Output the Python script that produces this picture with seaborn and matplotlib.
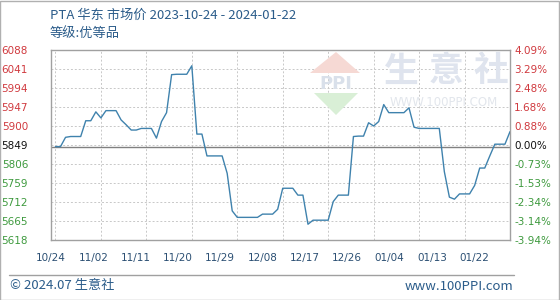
import matplotlib
matplotlib.use("Agg")
import matplotlib.pyplot as plt
import matplotlib.dates as mdates
from matplotlib.patches import Polygon, Rectangle
from matplotlib.lines import Line2D
import seaborn as sns
import pandas as pd

# ---------------- data ----------------
start_date = "2023-10-24"
end_date = "2024-01-22"
prices = [
    5849, 5849, 5872, 5874, 5874, 5874, 5913, 5913, 5935, 5920,
    5938, 5938, 5938, 5915, 5903, 5890, 5890, 5894, 5894, 5894,
    5870, 5911, 5933, 6027, 6028, 6028, 6028, 6049, 5880, 5880,
    5826, 5826, 5826, 5826, 5783, 5690, 5674, 5674, 5674, 5674,
    5674, 5682, 5682, 5682, 5694, 5746, 5746, 5746, 5729, 5729,
    5657, 5667, 5667, 5667, 5667, 5713, 5729, 5729, 5729, 5874,
    5875, 5875, 5908, 5900, 5911, 5953, 5933, 5933, 5933, 5933,
    5945, 5897, 5894, 5894, 5894, 5894, 5894, 5787, 5724, 5719,
    5732, 5732, 5732, 5753, 5796, 5796, 5826, 5855, 5855, 5855,
    5886,
]
base_price = 5849
y_ticks = [5618, 5665, 5712, 5759, 5806, 5853, 5900, 5947, 5994, 6041, 6088]
y_labels = ["5618", "5665", "5712", "5759", "5806", "5849",
            "5900", "5947", "5994", "6041", "6088"]
pct_labels = ["-3.94%", "-3.14%", "-2.34%", "-1.53%", "-0.73%", "0.00%",
              "0.88%", "1.68%", "2.48%", "3.29%", "4.09%"]
x_labels = ["10/24", "11/02", "11/11", "11/20", "11/29", "12/08",
            "12/17", "12/26", "01/04", "01/13", "01/22"]
title = "PTA 华东 市场价 2023-10-24 - 2024-01-22"
subtitle = "等级:优等品"
footer_left = "© 2024.07 生意社"
footer_right = "www.100PPI.com"

dates = pd.date_range(start_date, end_date, freq="D")
df = pd.DataFrame({"date": dates, "price": prices})

# ---------------- style ----------------
sns.set_style("white")
plt.rcParams["font.family"] = ["DejaVu Sans", "Noto Sans CJK SC"]
cjk = ["Noto Sans CJK SC", "DejaVu Sans"]

W, H = 560, 300
fig = plt.figure(figsize=(W / 100, H / 100), dpi=100)
fig.patch.set_facecolor("white")

def fx(px):
    return px / W

def fy(py):
    return 1 - py / H

L, R, T, B = 51, 510, 50, 240
ax = fig.add_axes([fx(L), fy(B), fx(R - L), fy(T) - fy(B)])
ax.set_facecolor("white")

# watermark (behind data)
wm = "#dfe4ee"
for i, ch in enumerate("生意社"):
    fig.text(fx(401 + 45 * i), fy(71), ch, fontsize=25, color=wm,
             ha="center", va="center", family=cjk, fontweight="bold", zorder=0)
fig.text(fx(444), fy(103), "WWW.100PPI.COM", fontsize=8.5, color="#e2e6ec",
         ha="center", va="center", zorder=0)
fig.patches.append(Polygon([[fx(310), fy(73)], [fx(336), fy(52)], [fx(360), fy(73)]],
                           closed=True, transform=fig.transFigure,
                           facecolor="#f6d9d4", edgecolor="none", zorder=0))
fig.patches.append(Polygon([[fx(314), fy(93)], [fx(336), fy(115)], [fx(358), fy(93)]],
                           closed=True, transform=fig.transFigure,
                           facecolor="#d9efd6", edgecolor="none", zorder=0))
fig.text(fx(336), fy(84), "PPI", fontsize=13, color="#d9e0ea", ha="center",
         va="center", fontweight="bold", zorder=0)

sns.lineplot(data=df, x="date", y="price", ax=ax, color="#3f82ad",
             linewidth=1.0, zorder=3)

x0 = mdates.date2num(dates[0])
x1 = mdates.date2num(dates[-1])
ax.set_xlim(x0, x1)
ax.set_ylim(y_ticks[0], y_ticks[-1])

# grid
ax.set_yticks(y_ticks)
ax.set_yticklabels(y_labels)
grid_x = [x0 + 9 * k for k in range(11)]
ax.set_xticks(grid_x, minor=True)
label_x = [x0 - 0.88 + 8.38 * k for k in range(11)]
ax.set_xticks(label_x)
ax.set_xticklabels(x_labels)
ax.grid(False)
ax.grid(True, which="minor", axis="x", color="#c8c8c8", linestyle=(0, (2, 2)), linewidth=0.7)
ax.grid(True, which="major", axis="y", color="#c8c8c8", linestyle=(0, (2, 2)), linewidth=0.7)
ax.axhline(base_price, color="#808080", linewidth=1.0, zorder=2)

ax.set_xlabel("")
ax.set_ylabel("")
for s in ax.spines.values():
    s.set_color("#a0a0a0")
    s.set_linewidth(1.0)

ax.tick_params(axis="both", which="both", length=0)
ax.tick_params(axis="y", pad=16.5, labelsize=7.5)
ax.tick_params(axis="x", pad=9, labelsize=7.5, labelcolor="#2b4f73")

def col(i):
    if i > 5:
        return "#d0393e"
    if i == 5:
        return "#111111"
    return "#3e9a3e"

for i, t in enumerate(ax.get_yticklabels()):
    t.set_color(col(i))

ax2 = ax.twinx()
ax2.set_ylim(ax.get_ylim())
ax2.set_yticks(y_ticks)
ax2.set_yticklabels(pct_labels)
ax2.tick_params(axis="y", length=0, pad=3, labelsize=7.5)
for s in ax2.spines.values():
    s.set_visible(False)
for i, t in enumerate(ax2.get_yticklabels()):
    t.set_color(col(i))

# titles
fig.text(fx(50), fy(15), title, fontsize=9.5, color="#2b5c8a",
         ha="left", va="center", family=cjk)
fig.text(fx(50), fy(33), subtitle, fontsize=9.5, color="#2b5c8a",
         ha="left", va="center", family=cjk)

# footer
fig.lines.append(Line2D([fx(9), fx(514)], [fy(275), fy(275)],
                        transform=fig.transFigure, color="#a0a0a0", linewidth=1.0))
fig.text(fx(10), fy(286), footer_left, fontsize=9.5, color="#2b5c8a",
         ha="left", va="center", family=cjk)
fig.text(fx(513), fy(286), footer_right, fontsize=9.5, color="#2b5c8a",
         ha="right", va="center", family=cjk)

# outer border
fig.patches.append(Rectangle((0.0, 0.0), 1 - 1 / W, 1 - 1 / H, transform=fig.transFigure,
                             fill=False, edgecolor="#b0b0b0", linewidth=1.0))

fig.savefig("out.png", dpi=100, facecolor="white")
